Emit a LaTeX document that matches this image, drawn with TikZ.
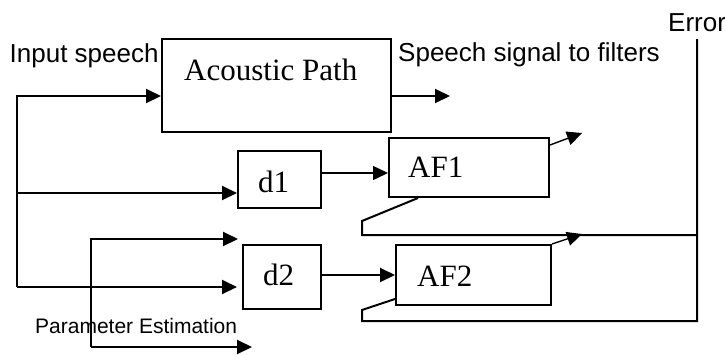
\documentclass[tikz,border=0pt]{standalone}
\usepackage{fontspec}
\setmainfont{Liberation Serif}
\setsansfont{Liberation Sans}
\usetikzlibrary{arrows.meta,calc}

\begin{document}
\begin{tikzpicture}[x=1pt,y=-1pt,
  blk/.style={draw,line width=2pt,inner sep=0pt,minimum width=#1},
  lbl/.style={inner sep=0pt,anchor=base west,font=\fontsize{31}{36}\selectfont},
  sans/.style={inner sep=0pt,anchor=base west,font=\sffamily\fontsize{26}{30}\selectfont},
  wire/.style={line width=2pt},
  thin wire/.style={line width=1.4pt},
  arr/.style={-{Triangle[length=15pt,width=14pt]}},
]
\useasboundingbox (0,0) rectangle (725,354);

% processing blocks
\node[blk=229pt,minimum height=93pt] (ap)  at (276.5,85.5) {};
\node[blk=83pt, minimum height=57pt] (d1)  at (279.5,179.5) {};
\node[blk=78pt, minimum height=64pt] (d2)  at (282,277) {};
\node[blk=160pt,minimum height=59pt] (af1) at (469,167.5) {};
\node[blk=155pt,minimum height=60pt] (af2) at (473.5,275) {};

% block labels
\node[lbl] (apt)  at (184,80)  {Acoustic Path};
\node[lbl] (d1t)  at (258,192) {d1};
\node[lbl] (d2t)  at (263,285) {d2};
\node[lbl] (af1t) at (408,177) {AF1};
\node[lbl] (af2t) at (417,286) {AF2};

% signal labels
\node[sans] (ins)  at (9.5,62) {Input speech};
\node[sans] (sst)  at (398,61) {Speech signal to filters};
\node[sans] (err)  at (668,31) {Error};
\node[sans,font=\sffamily\fontsize{21}{25}\selectfont] (pet) at (35,333) {Parameter Estimation};

% junction points and free ends
\coordinate (inA) at (17,96);
\coordinate (inB) at (17,193);
\coordinate (inC) at (17,287);
\coordinate (spo) at (450,96);
\coordinate (r1)  at (0,173);
\coordinate (r2)  at (0,275);
\coordinate (o1)  at (582,133);
\coordinate (o2)  at (582,234);
\coordinate (peT) at (91,239);
\coordinate (peB) at (91,347);
\coordinate (peT2) at (238,239);
\coordinate (peB2) at (252,347);
\coordinate (eT) at (697,39);
\coordinate (e1) at (697,235);
\coordinate (e2) at (697,321);

% input speech distribution
\draw[wire,arr] (inC) -- (inA) -- (inA -| ap.west);
\draw[wire,arr] (inB) -- (inB -| d1.west);
\draw[wire,arr,shorten >=5pt] (inC) -- (inC -| d2.west);

% acoustic path output
\draw[wire,arr] (spo -| ap.east) -- (spo);

% delays to adaptive filters
\draw[thin wire,arr] (d1.east |- r1) -- (af1.west |- r1);
\draw[wire,arr] (d2.east |- r2) -- (af2.west |- r2);

% adaptive filter outputs
\draw[thin wire,arr] (af1.east |- 0,145) -- (o1);
\draw[thin wire,arr] (af2.north east) -- (o2);

% parameter estimation
\draw[wire,arr] (peB) -- (peT) -- (peT2);
\draw[wire,arr] (peB) -- (peB2);

% error feedback
\draw[wire] (eT) -- (e2) -- (362,321) -- (362,310) -- (af2.west |- 0,299);
\draw[wire] (e1) -- (362,235) -- (362,221) -- ([xshift=30pt]af1.south west);
\end{tikzpicture}
\end{document}
